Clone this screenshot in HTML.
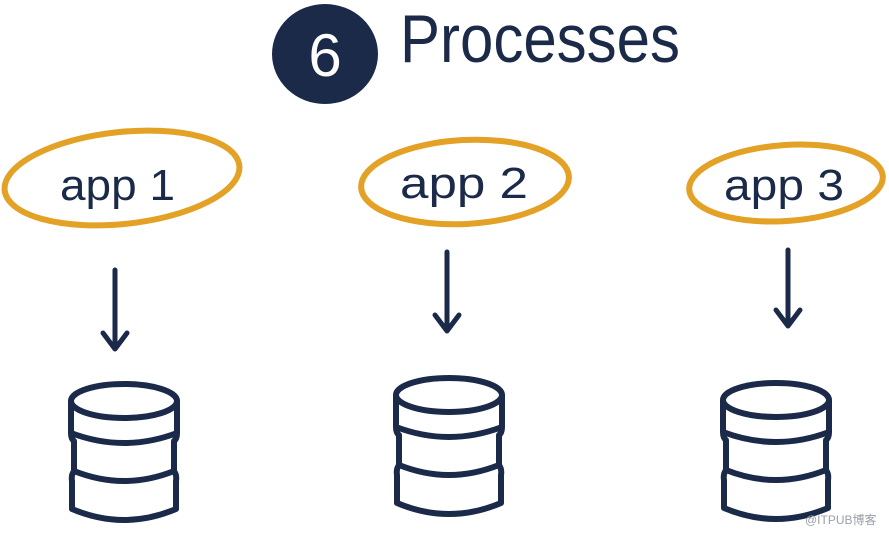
<!DOCTYPE html>
<html><head><style>
html,body{margin:0;padding:0;background:#fff;}
svg{display:block;}
text{font-family:"Liberation Sans",sans-serif;}
</style></head><body>
<svg width="889" height="534" viewBox="0 0 889 534" xmlns="http://www.w3.org/2000/svg">
<ellipse cx="325" cy="54" rx="53" ry="50" fill="#1c2a4a"/>
<text x="325" y="76" font-size="60" fill="#fff" text-anchor="middle">6</text>
<text x="400" y="62" font-size="68" fill="#1c2a4a" textLength="280" lengthAdjust="spacingAndGlyphs">Processes</text>
<g fill="none" stroke="#e3a126" stroke-width="6">
<ellipse cx="122" cy="178" rx="118" ry="46" transform="rotate(-6 122 178)"/>
<ellipse cx="465" cy="182" rx="104" ry="42" transform="rotate(-3 465 182)"/>
<ellipse cx="786" cy="183" rx="97" ry="38" transform="rotate(-4 786 183)"/>
</g>
<g fill="#1c2a4a" font-size="44">
<text x="60" y="200" textLength="115" lengthAdjust="spacingAndGlyphs">app 1</text>
<text x="400" y="198" textLength="128" lengthAdjust="spacingAndGlyphs">app 2</text>
<text x="724" y="200" textLength="120" lengthAdjust="spacingAndGlyphs">app 3</text>
</g>
<g fill="none" stroke="#1c2a4a" stroke-width="5" stroke-linecap="round" stroke-linejoin="round">
<path d="M115 270 L115 348 M103 333 L115 349 L127 333"/>
<path d="M447 252 L447 330 M435 315 L447 331 L459 315"/>
<path d="M788 250 L788 325 M776 310 L788 326 L800 310"/>
</g>
<g fill="none" stroke="#1c2a4a" stroke-width="6" stroke-linejoin="round">
<g transform="translate(70 381)">
<ellipse cx="54" cy="20" rx="53" ry="17"/>
<path d="M1 20 V52 Q54 72 107 52 V20 M1 52 Q1 58 4 60 V90 Q54 110 104 90 V60 Q107 58 107 52 M4 90 Q1 94 2 100 V128 Q54 150 106 128 V100 Q107 94 104 90"/>
</g>
<g transform="translate(395 375)">
<ellipse cx="54" cy="20" rx="53" ry="17"/>
<path d="M1 20 V52 Q54 72 107 52 V20 M1 52 Q1 58 4 60 V90 Q54 110 104 90 V60 Q107 58 107 52 M4 90 Q1 94 2 100 V128 Q54 150 106 128 V100 Q107 94 104 90"/>
</g>
<g transform="translate(722 380)">
<ellipse cx="54" cy="20" rx="53" ry="17"/>
<path d="M1 20 V52 Q54 72 107 52 V20 M1 52 Q1 58 4 60 V90 Q54 110 104 90 V60 Q107 58 107 52 M4 90 Q1 94 2 100 V128 Q54 150 106 128 V100 Q107 94 104 90"/>
</g>
</g>
<text x="805" y="524" font-size="12" fill="#9aa0a8">@ITPUB博客</text>
</svg>
</body></html>
